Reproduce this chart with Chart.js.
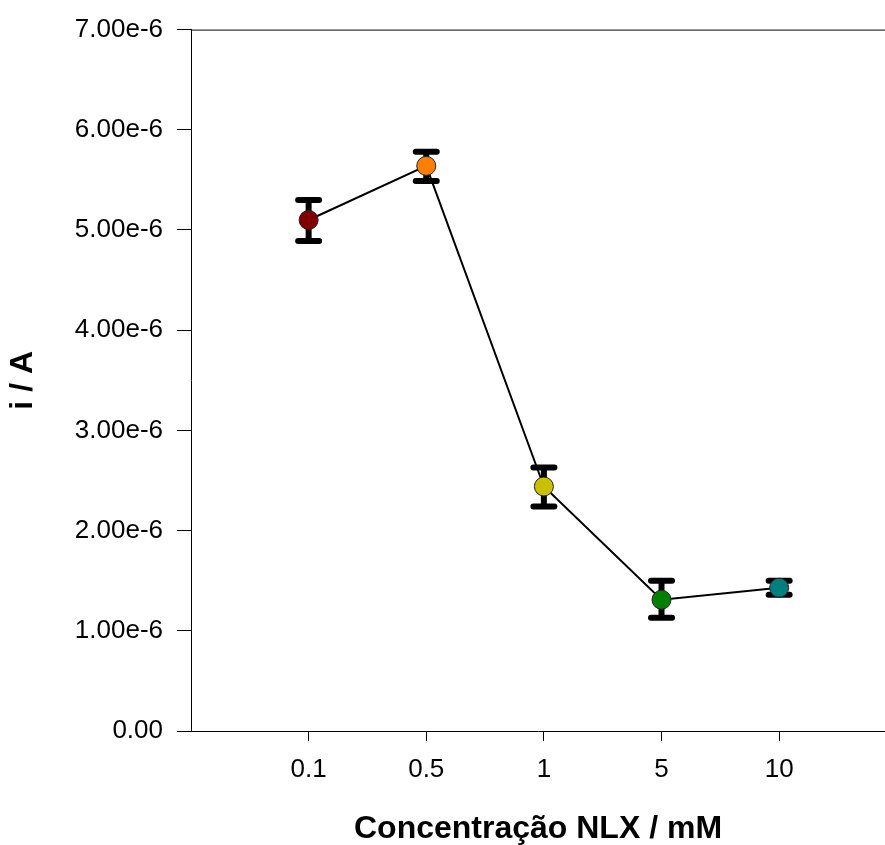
<!DOCTYPE html>
<html>
<head>
<meta charset="utf-8">
<script src="https://cdn.jsdelivr.net/npm/chart.js@4/dist/chart.umd.min.js"></script>
<style>
  body { margin: 0; background: #fff; }
  canvas { display: block; }
</style>
</head>
<body>
<canvas id="mygraph" width="885" height="845"></canvas>
<script>
// Data
const categories = ['0.1', '0.5', '1', '5', '10'];
const current = [5.10e-6, 5.64e-6, 2.44e-6, 1.31e-6, 1.43e-6];
const errUpper = [5.30e-6, 5.78e-6, 2.63e-6, 1.50e-6, 1.50e-6];
const errLower = [4.89e-6, 5.49e-6, 2.24e-6, 1.13e-6, 1.36e-6];
const pointColors = ['#7f0000', '#ff8000', '#c8c000', '#007f00', '#007f7f'];
const yTicks = [0, 1e-6, 2e-6, 3e-6, 4e-6, 5e-6, 6e-6, 7e-6];

// x positions: categories sit at 1..5 on a linear axis
const points = current.map((v, i) => ({ x: i + 1, y: v }));

// error bars drawn under the markers
const errorBars = {
  id: 'errorBars',
  beforeDatasetsDraw(chart) {
    const ctx = chart.ctx;
    const xs = chart.scales.x, ys = chart.scales.y;
    ctx.save();
    ctx.strokeStyle = '#000';
    ctx.lineWidth = 6;
    ctx.lineCap = 'round';
    for (let i = 0; i < current.length; i++) {
      const x = xs.getPixelForValue(i + 1);
      const top = ys.getPixelForValue(errUpper[i]);
      const bot = ys.getPixelForValue(errLower[i]);
      ctx.beginPath();
      ctx.moveTo(x, top); ctx.lineTo(x, bot);
      ctx.moveTo(x - 10.5, top); ctx.lineTo(x + 10.5, top);
      ctx.moveTo(x - 10.5, bot); ctx.lineTo(x + 10.5, bot);
      ctx.stroke();
    }
    ctx.restore();
  }
};

// top frame line
const topFrame = {
  id: 'topFrame',
  afterDraw(chart) {
    const ctx = chart.ctx, a = chart.chartArea;
    ctx.save();
    ctx.strokeStyle = '#000';
    ctx.lineWidth = 1;
    ctx.beginPath();
    ctx.moveTo(a.left, a.top + 0.5);
    ctx.lineTo(a.right, a.top + 0.5);
    ctx.stroke();
    ctx.restore();
  }
};

new Chart(document.getElementById('mygraph'), {
  type: 'line',
  data: {
    datasets: [{
      data: points,
      borderColor: '#000',
      borderWidth: 2,
      pointRadius: 9.5,
      pointBorderWidth: 1,
      pointBorderColor: '#222',
      pointBackgroundColor: pointColors,
      tension: 0
    }]
  },
  plugins: [errorBars, topFrame],
  options: {
    responsive: false,
    animation: false,
    devicePixelRatio: 1,
    layout: { autoPadding: false, padding: { top: 28, right: 0, bottom: 0, left: 0 } },
    plugins: { legend: { display: false }, tooltip: { enabled: false } },
    scales: {
      x: {
        type: 'linear',
        min: 0,
        max: 5.9,
        afterFit: (s) => { s.height = 114; s.paddingLeft = 0; s.paddingRight = 0; },
        afterBuildTicks: (s) => { s.ticks = categories.map((c, i) => ({ value: i + 1 })); },
        ticks: {
          callback: (v) => categories[v - 1],
          color: '#000',
          font: { family: 'Liberation Sans, Arial', size: 26 },
          padding: 13,
          maxRotation: 0
        },
        grid: { drawOnChartArea: false, tickLength: 10, color: '#000' },
        border: { color: '#000', width: 1 },
        title: {
          display: true,
          text: 'Concentração NLX / mM',
          color: '#000',
          font: { family: 'Liberation Sans, Arial', size: 32, weight: 'bold', lineHeight: 1 },
          padding: { top: 0, bottom: 0 }
        }
      },
      y: {
        min: 0,
        max: 7e-6,
        afterFit: (s) => { s.width = 191; },
        afterBuildTicks: (s) => { s.ticks = yTicks.map(v => ({ value: v })); },
        ticks: {
          callback: (v) => v === 0 ? '0.00' : (v * 1e6).toFixed(2) + 'e-6',
          color: '#000',
          font: { family: 'Liberation Sans, Arial', size: 26 },
          padding: 14
        },
        grid: { drawOnChartArea: false, tickLength: 14, color: '#000' },
        border: { color: '#000', width: 1 },
        title: {
          display: true,
          text: 'i / A',
          color: '#000',
          font: { family: 'Liberation Sans, Arial', size: 32, weight: 'bold', lineHeight: 1 },
          padding: { top: 7, bottom: 0 }
        }
      }
    }
  }
});
</script>
</body>
</html>
